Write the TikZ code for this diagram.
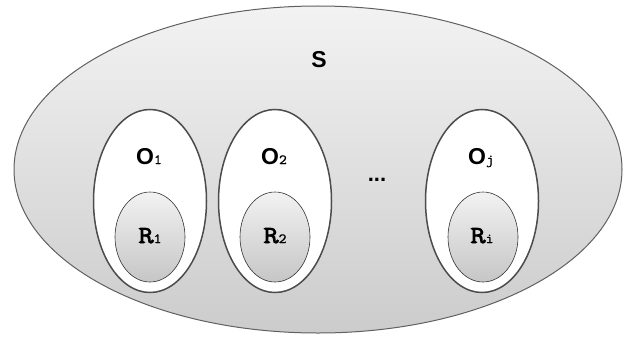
\documentclass[tikz,border=0pt]{standalone}
\usepackage{fontspec}
\setmainfont{Liberation Sans}
\newfontfamily\sansbf{Liberation Sans Bold}
\newfontfamily\ttR{Latin Modern Mono}[FakeBold=3,FakeStretch=1.2]
\newfontfamily\ttS{Latin Modern Mono}[FakeBold=1,FakeStretch=1.1]
\usetikzlibrary{shapes.geometric}
\tikzset{
  outerell/.style={ellipse, draw=gray!75!black, line width=1pt, top color=gray!10, bottom color=gray!40, inner sep=0pt},
  objell/.style={ellipse, draw=gray!60!black, line width=1.5pt, fill=white, minimum width=113pt, minimum height=183pt, inner sep=0pt},
  resell/.style={ellipse, draw=gray!40!black, line width=0.6pt, top color=gray!10, bottom color=gray!45, minimum width=70pt, minimum height=90pt, inner sep=0pt},
  lab/.style={inner sep=0pt, anchor=base},
}
\newcommand{\subt}[1]{{\ttS\fontsize{14}{15}\selectfont #1}}
\newcommand{\olet}[1]{{\sansbf\fontsize{23}{25}\selectfont #1}}
\newcommand{\rlet}[1]{{\ttR\fontsize{24.5}{26}\selectfont #1}}
\begin{document}
\begin{tikzpicture}[x=1pt,y=-1pt]
\useasboundingbox (0,0) rectangle (628,337);
\node[outerell, minimum width=608pt, minimum height=327pt] (S) at (318,169.5) {};
\node[lab] (Slab) at (319,67) {\olet{S}};
\node[objell] (O1) at (150,201) {};
\node[objell] (O2) at (275,201) {};
\node[objell] (Oj) at (482,201) {};
\node[resell] (R1) at (150,237) {};
\node[resell] (R2) at (275,237) {};
\node[resell] (Ri) at (483,237) {};
\node[lab] (O1l) at (149,164) {\olet{O}\subt{1}};
\node[lab] (O2l) at (274,164) {\olet{O}\subt{2}};
\node[lab] (Ojl) at (481,164) {\olet{O}\subt{j}};
\node[lab] (R1l) at (150,243) {\rlet{R}\subt{1}};
\node[lab] (R2l) at (275,243) {\rlet{R}\subt{2}};
\node[lab] (Ril) at (482,243) {\rlet{R}\subt{i}};
\node[inner sep=0pt] (dots) at (377,180) {\sansbf\fontsize{22}{24}\selectfont ...};
\end{tikzpicture}
\end{document}
